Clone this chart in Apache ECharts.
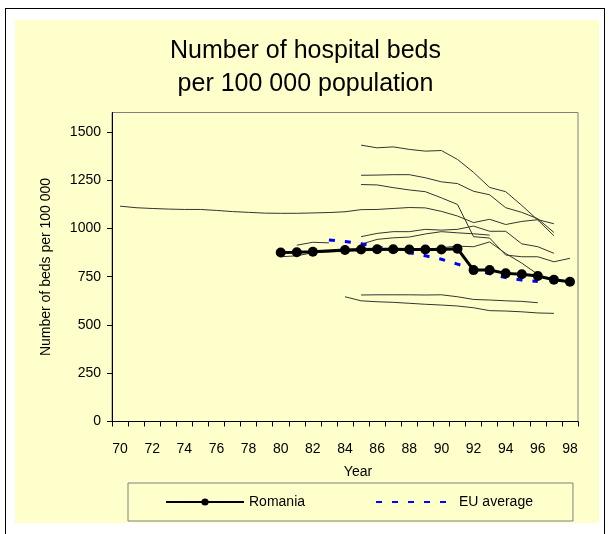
<!DOCTYPE html>
<html>
<head>
<meta charset="utf-8">
<script src="https://cdn.jsdelivr.net/npm/echarts@6/dist/echarts.min.js"></script>
<style>
  html, body { margin: 0; padding: 0; background: #ffffff; overflow: hidden; }
  #frame { position: absolute; left: 5px; top: 8px; width: 600px; height: 560px; border: 1px solid #000; box-sizing: border-box; }
  #panel { position: absolute; left: 15px; top: 20px; width: 584px; height: 503px; background: #FFFFCC; }
  #chart { position: absolute; left: 0; top: 0; width: 611px; height: 534px; }
</style>
</head>
<body>
<div id="frame"></div>
<div id="panel"></div>
<div id="chart"></div>
<script>
// Years 1970-1998, shown as two-digit labels
const years = ['70','71','72','73','74','75','76','77','78','79',
               '80','81','82','83','84','85','86','87','88','89',
               '90','91','92','93','94','95','96','97','98'];

const yTicks = [0, 250, 500, 750, 1000, 1250, 1500];

//                 70    71    72    73    74    75    76    77    78    79    80    81    82    83    84    85    86    87    88    89    90    91    92    93    94    95    96    97    98
const romania   = [null, null, null, null, null, null, null, null, null, null, 875,  876,  879,  null, 888,  891,  892,  892,  891,  891,  891,  895,  784,  784,  767,  762,  753,  734,  724];
const euAverage = [null, null, null, null, null, null, null, null, null, null, null, null, null, 940,  932,  920,  905,  890,  874,  858,  840,  815,  790,  765,  745,  732,  725,  null, null];

// Other European countries (thin reference lines)
const countryA  = [1115, 1107, 1103, 1100, 1098, 1098, 1093, 1087, 1083, 1079, 1078, 1078, 1080, 1082, 1086, 1097, 1098, 1103, 1108, 1106, 1088, 1064, 1030, 1047, 1020, 1036, 1045, 1024, null];
const countryB  = [null, null, null, null, null, null, null, null, null, null, null, null, null, null, null, 1431, 1417, 1422, 1409, 1400, 1403, 1357, 1290, 1212, 1190, 1119, 1043, 962,  null];
const countryC  = [null, null, null, null, null, null, null, null, null, null, null, null, null, null, null, 1275, 1276, 1278, 1278, 1262, 1241, 1232, 1192, 1174, 1107, 1083, 1050, 979,  null];
const countryD  = [null, null, null, null, null, null, null, null, null, null, null, null, null, null, null, 1227, 1225, 1211, 1199, 1190, 1158, 1124, 957,  950,  862,  853,  853,  827,  845];
const countryE  = [null, null, null, null, null, null, null, null, null, null, null, null, null, null, null, 957,  974,  983,  983,  995,  991,  995,  1012, 985,  985,  920,  905,  871,  null];
const countryF  = [null, null, null, null, null, null, null, null, null, null, null, 913,  928,  925,  null, 918,  943,  951,  955,  971,  983,  977,  972,  965,  null, null, null, null, null];
const countryG  = [null, null, null, null, null, null, null, null, null, null, 853,  858,  874,  878,  881,  884,  886,  887,  888,  890,  900,  908,  905,  930,  870,  820,  762,  null, null];
const countryH  = [null, null, null, null, null, null, null, null, null, null, null, null, null, null, null, 655,  656,  656,  656,  655,  656,  646,  632,  629,  625,  622,  615,  null, null];
const countryI  = [null, null, null, null, null, null, null, null, null, null, null, null, null, null, 646,  625,  620,  617,  612,  607,  603,  598,  589,  574,  572,  568,  562,  560,  null];

const others = [countryA, countryB, countryC, countryD, countryE, countryF, countryG, countryH, countryI];

const FONT = '"Liberation Sans", Arial, sans-serif';

const chart = echarts.init(document.getElementById('chart'), null, { renderer: 'canvas' });

const series = others.map(function (values, i) {
  return {
    name: 'country' + i,
    type: 'line',
    data: values,
    symbol: 'none',
    connectNulls: false,
    lineStyle: { color: '#333333', width: 1 },
    z: 2,
    silent: true
  };
});

series.push({
  name: 'EU average',
  type: 'line',
  data: euAverage,
  symbol: 'none',
  lineStyle: { color: '#0000FF', width: 3, type: [6, 10] },
  itemStyle: { color: '#0000FF' },
  z: 3
});

series.push({
  name: 'Romania',
  type: 'line',
  data: romania,
  connectNulls: true,
  symbol: 'circle',
  symbolSize: 10,
  showAllSymbol: true,
  lineStyle: { color: '#000000', width: 3 },
  itemStyle: { color: '#000000' },
  z: 4
});

chart.setOption({
  animation: false,
  backgroundColor: 'transparent',
  textStyle: { fontFamily: FONT },
  title: {
    text: 'Number of hospital beds\nper 100 000 population',
    left: 'center',
    top: 30,
    textStyle: { fontFamily: FONT, fontSize: 25, fontWeight: 'normal', color: '#000', lineHeight: 33 }
  },
  legend: {
    data: [
      { name: 'Romania' },
      { name: 'EU average', itemStyle: { opacity: 0 } }
    ],
    left: 128,
    top: 483,
    orient: 'horizontal',
    itemWidth: 78,
    itemHeight: 9,
    itemGap: 70,
    padding: [12, 40, 12, 37],
    borderColor: '#808080',
    borderWidth: 1,
    backgroundColor: 'transparent',
    textStyle: { fontFamily: FONT, fontSize: 14, color: '#000' }
  },
  grid: {
    left: 112,
    top: 112.5,
    width: 466,
    height: 309,
    show: true,
    borderColor: '#808080',
    borderWidth: 1,
    backgroundColor: 'transparent'
  },
  xAxis: {
    type: 'category',
    data: years,
    boundaryGap: true,
    axisLine: { lineStyle: { color: '#000', width: 1 } },
    axisTick: { show: true, interval: 0, length: 5, inside: false, lineStyle: { color: '#000' } },
    axisLabel: { interval: 1, fontSize: 14, color: '#000', margin: 21, fontFamily: FONT },
    splitLine: { show: false },
    name: 'Year',
    nameLocation: 'middle',
    nameGap: 44,
    nameTextStyle: { fontSize: 14, color: '#000', fontFamily: FONT, padding: [0, 0, 0, 26] }
  },
  yAxis: {
    type: 'value',
    min: 0,
    max: 1600,
    interval: 250,
    axisLine: { show: true, lineStyle: { color: '#000', width: 1 } },
    axisTick: { show: true, length: 5, inside: false, customValues: yTicks, lineStyle: { color: '#000' } },
    axisLabel: {
      fontSize: 14, color: '#000', margin: 11, customValues: yTicks, fontFamily: FONT,
      formatter: function (v) { return String(v); }
    },
    splitLine: { show: false },
    name: 'Number of beds per 100 000',
    nameLocation: 'middle',
    nameGap: 59,
    nameTextStyle: { fontSize: 14, color: '#000', fontFamily: FONT }
  },
  series: series
});
</script>
</body>
</html>
